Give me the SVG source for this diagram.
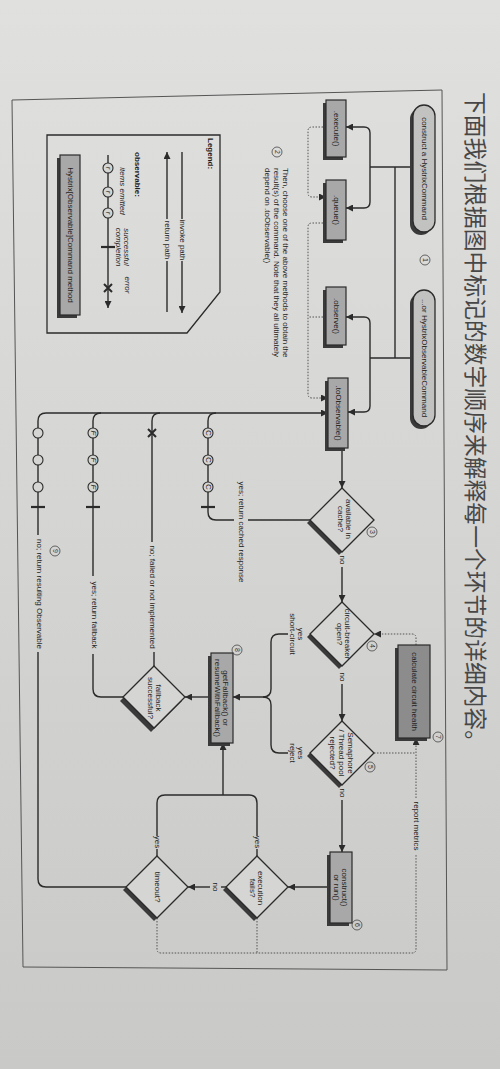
<svg xmlns="http://www.w3.org/2000/svg" width="500" height="1069" viewBox="0 0 500 1069">
<defs>
<linearGradient id="bg" x1="0" y1="0" x2="0" y2="1">
<stop offset="0" stop-color="#e0e0df"/>
<stop offset="1" stop-color="#c9c9c7"/>
</linearGradient>
<marker id="a" viewBox="0 0 10 10" refX="10" refY="5" markerWidth="7" markerHeight="7" markerUnits="userSpaceOnUse" orient="auto"><path d="M0,0 L10,5 L0,10 z" fill="#2b2b2b"/></marker>
<marker id="ad" viewBox="0 0 10 10" refX="10" refY="5" markerWidth="7" markerHeight="7" markerUnits="userSpaceOnUse" orient="auto"><path d="M0,0 L10,5 L0,10 z" fill="#2b2b2b"/></marker>
</defs>
<style>
.ln{fill:none;stroke:#2b2b2b;stroke-width:1.4}
.dt{fill:none;stroke:#555;stroke-width:1;stroke-dasharray:1.5 1.5}
.box{fill:#a8a8a8;stroke:#2b2b2b;stroke-width:1.2}
.pill{fill:#c2c2c1;stroke:#2b2b2b;stroke-width:1.3}
.dark{fill:#8c8c8c;stroke:#2b2b2b;stroke-width:1.2}
.sh{fill:#3a3a3a}
.dia{fill:#d5d5d3;stroke:#2b2b2b;stroke-width:1.3}
.t{font-family:"Liberation Sans",Arial,sans-serif;font-size:8px;fill:#1e1e1e;text-anchor:middle;dominant-baseline:central}
.s{text-anchor:start}
.i{font-style:italic}
.b{font-weight:bold}
.cir{fill:#d5d5d3;stroke:#2b2b2b;stroke-width:1.1}
.num{fill:none;stroke:#444;stroke-width:0.8}
.nt{font-family:"Liberation Sans",Arial,sans-serif;font-size:7px;fill:#333;text-anchor:middle;dominant-baseline:central}
.tick{stroke:#2b2b2b;stroke-width:2.2}
</style>
<rect x="0" y="0" width="500" height="1069" fill="url(#bg)"/>
<polygon points="12,100 442,90 447,970 23,967" fill="none" stroke="#555" stroke-width="1"/>
<text transform="translate(467,92) rotate(90)" font-family="'Noto Sans CJK SC','Noto Sans CJK JP',sans-serif" font-size="22.8" fill="#474747">下面我们根据图中标记的数字顺序来解释每一个环节的详细内容。</text>

<g id="connectors">
<path class="ln" d="M413,167 H370"/>
<path class="ln" d="M370,167 V133 Q370,127 364,127 H346" marker-end="url(#a)"/>
<path class="ln" d="M370,167 V202 Q370,208 364,208 H346" marker-end="url(#a)"/>
<path class="ln" d="M395,167 V358"/>
<path class="ln" d="M413,358 H370"/>
<path class="ln" d="M370,358 V323 Q370,317 364,317 H346" marker-end="url(#a)"/>
<path class="ln" d="M370,358 V406 Q370,412 364,412 H348" marker-end="url(#a)"/>
<path class="dt" d="M326,127 H312 Q308,127 308,131 V193 Q308,197 312,197 H326" marker-end="url(#ad)"/>
<path class="dt" d="M326,223 H312 Q308,223 308,227 V394 Q308,398 312,398 H328" marker-end="url(#ad)"/>
<path class="dt" d="M326,317 H308"/>
<path class="ln" d="M126,887 H46 Q38,887 38,879 V652"/>
<path class="ln" d="M38,535 V421 Q38,413 46,413 H328" marker-end="url(#a)"/>
<path class="ln" d="M123,697 H101 Q93,697 93,689 V654"/>
<path class="ln" d="M93,576 V421 Q93,413 101,413"/>
<path class="ln" d="M154,666 V652"/>
<path class="ln" d="M152,542 V421 Q152,413 160,413"/>
<path class="ln" d="M310,520 H248"/>
<path class="ln" d="M234,520 H216 Q208,520 208,512 V421 Q208,413 216,413"/>
<path class="ln" d="M342,448 V488" marker-end="url(#a)"/>
<path class="ln" d="M342,567 V602" marker-end="url(#a)"/>
<path class="ln" d="M342,684 V721" marker-end="url(#a)"/>
<path class="ln" d="M342,800 V852" marker-end="url(#a)"/>
<path class="ln" d="M330,887 H288" marker-end="url(#a)"/>
<path class="ln" d="M226,887 H221"/>
<path class="ln" d="M210,887 H188" marker-end="url(#a)"/>
<path class="ln" d="M257,856 V849"/>
<path class="ln" d="M257,836 V803 Q257,795 249,795 H165 Q157,795 157,803 V836"/>
<path class="ln" d="M157,849 V856"/>
<path class="ln" d="M223,795 V743" marker-end="url(#a)"/>
<path class="ln" d="M288,634 H279 Q271,634 271,642 V689 Q271,697 263,697 H233" marker-end="url(#a)"/>
<path class="ln" d="M288,753 H279 Q271,753 271,745 V705 Q271,697 263,697"/>
<path class="ln" d="M211,697 H185" marker-end="url(#a)"/>
<path class="dt" d="M416,645 V638 Q416,634 412,634 H374" marker-end="url(#ad)"/>
<path class="dt" d="M374,753 H416"/>
<path class="dt" d="M416,798 V738" marker-end="url(#ad)"/>
<path class="dt" d="M157,918 V949 Q157,953 161,953 H412 Q416,953 416,949 V854"/>
<path class="dt" d="M257,918 V953"/>
</g>

<g id="branch-markers">
<circle class="cir" cx="38" cy="433" r="5"/><circle class="cir" cx="38" cy="460" r="5"/><circle class="cir" cx="38" cy="487" r="5"/>
<line class="tick" x1="31" y1="507" x2="45" y2="507"/>
<circle class="cir" cx="93" cy="433" r="5"/><circle class="cir" cx="93" cy="460" r="5"/><circle class="cir" cx="93" cy="487" r="5"/>
<text class="t i" font-size="6" transform="translate(93,433) rotate(90)">F</text>
<text class="t i" font-size="6" transform="translate(93,460) rotate(90)">F</text>
<text class="t i" font-size="6" transform="translate(93,487) rotate(90)">F</text>
<line class="tick" x1="86" y1="507" x2="100" y2="507"/>
<path d="M148,429 L156,437 M156,429 L148,437" stroke="#2b2b2b" stroke-width="2"/>
<circle class="cir" cx="208" cy="433" r="5"/><circle class="cir" cx="208" cy="460" r="5"/><circle class="cir" cx="208" cy="487" r="5"/>
<text class="t" font-size="6" transform="translate(208,433) rotate(90)">C</text>
<text class="t" font-size="6" transform="translate(208,460) rotate(90)">C</text>
<text class="t" font-size="6" transform="translate(208,487) rotate(90)">C</text>
<line class="tick" x1="201" y1="507" x2="215" y2="507"/>
</g>

<g id="labels">
<text class="t" transform="translate(241,532) rotate(90)">yes; return cached response</text>
<text class="t" transform="translate(152,597) rotate(90)">no; failed or not implemented</text>
<text class="t" transform="translate(94,615) rotate(90)">yes; return fallback</text>
<text class="t" transform="translate(39,594) rotate(90)">no; return resulting Observable</text>
<text class="t" transform="translate(342,560) rotate(90)">no</text>
<text class="t" transform="translate(342,677) rotate(90)">no</text>
<text class="t" transform="translate(342,793) rotate(90)">no</text>
<text class="t" transform="translate(215,887) rotate(90)">no</text>
<text class="t" transform="translate(257,842) rotate(90)">yes</text>
<text class="t" transform="translate(157,842) rotate(90)">yes</text>
<text class="t" transform="translate(297,634) rotate(90)"><tspan x="0" dy="-0.55em">yes</tspan><tspan x="0" dy="1.1em">short-circuit</tspan></text>
<text class="t" transform="translate(297,753) rotate(90)"><tspan x="0" dy="-0.55em">yes</tspan><tspan x="0" dy="1.1em">reject</tspan></text>
<text class="t" transform="translate(416,826) rotate(90)">report metrics</text>
</g>

<g id="n-construct-command"><rect class="sh" x="410" y="108" width="22" height="127" rx="11"/><rect class="pill" x="413" y="105" width="22" height="127" rx="11"/><text class="t" font-size="9" transform="translate(424,168.5) rotate(90)">construct a HystrixCommand</text></g>
<g id="n-observable-command"><rect class="sh" x="410" y="293" width="22" height="136" rx="11"/><rect class="pill" x="413" y="290" width="22" height="136" rx="11"/><text class="t" font-size="9" transform="translate(424,358) rotate(90)">...or HystrixObservableCommand</text></g>
<g id="n-execute"><rect class="sh" x="323" y="103" width="20" height="57"/><rect class="box" x="326" y="100" width="20" height="57"/><text class="t" font-size="8.5" transform="translate(336,128.5) rotate(90)">.execute()</text></g>
<g id="n-queue"><rect class="sh" x="323" y="183" width="20" height="60"/><rect class="box" x="326" y="180" width="20" height="60"/><text class="t" font-size="8.5" transform="translate(336,210) rotate(90)">.queue()</text></g>
<g id="n-observe"><rect class="sh" x="323" y="290" width="20" height="58"/><rect class="box" x="326" y="287" width="20" height="58"/><text class="t" font-size="8.5" transform="translate(336,316) rotate(90)">.observe()</text></g>
<g id="n-toobservable"><rect class="sh" x="325" y="381" width="20" height="70"/><rect class="box" x="328" y="378" width="20" height="70"/><text class="t" font-size="8.5" transform="translate(338,413) rotate(90)">.toObservable()</text></g>
<g id="n-cache"><polygon class="sh" points="339,491 371,523 339,555 307,523"/><polygon class="dia" points="342,488 374,520 342,552 310,520"/><text class="t" font-size="7.5" transform="translate(345,519) rotate(90)"><tspan x="0" dy="-0.55em">available in</tspan><tspan x="0" dy="1.1em">cache?</tspan></text></g>
<g id="n-circuit"><polygon class="sh" points="339,605 371,637 339,669 307,637"/><polygon class="dia" points="342,602 374,634 342,666 310,634"/><text class="t" font-size="7" transform="translate(344,634) rotate(90)"><tspan x="0" dy="-0.55em">circuit-breaker</tspan><tspan x="0" dy="1.1em">open?</tspan></text></g>
<g id="n-semaphore"><polygon class="sh" points="339,724 371,756 339,788 307,756"/><polygon class="dia" points="342,721 374,753 342,785 310,753"/><text class="t" font-size="7" transform="translate(342,753) rotate(90)"><tspan x="0" dy="-1.1em">Semaphore</tspan><tspan x="0" dy="1.1em">/ Thread pool</tspan><tspan x="0" dy="1.1em">rejected?</tspan></text></g>
<g id="n-calc-health"><rect class="sh" x="395" y="648" width="32" height="93"/><rect class="dark" x="398" y="645" width="32" height="93"/><text class="t" transform="translate(414,691.5) rotate(90)">calculate circuit health</text></g>
<g id="n-run"><rect class="sh" x="327" y="855" width="22" height="71"/><rect class="box" x="330" y="852" width="22" height="71"/><text class="t" font-size="8.5" transform="translate(341,887.5) rotate(90)"><tspan x="0" dy="-0.55em">construct()</tspan><tspan x="0" dy="1.1em">or run()</tspan></text></g>
<g id="n-exec-fails"><polygon class="sh" points="254,859 285,890 254,921 223,890"/><polygon class="dia" points="257,856 288,887 257,918 226,887"/><text class="t" transform="translate(257,888) rotate(90)"><tspan x="0" dy="-0.55em">execution</tspan><tspan x="0" dy="1.1em">fails?</tspan></text></g>
<g id="n-timeout"><polygon class="sh" points="154,859 185,890 154,921 123,890"/><polygon class="dia" points="157,856 188,887 157,918 126,887"/><text class="t" transform="translate(157,887) rotate(90)">timeout?</text></g>
<g id="n-getfallback"><rect class="sh" x="208" y="656" width="22" height="90"/><rect class="box" x="211" y="653" width="22" height="90"/><text class="t" font-size="8.5" transform="translate(222,698) rotate(90)"><tspan x="0" dy="-0.55em">getFallback() or</tspan><tspan x="0" dy="1.1em">resumeWithFallback()</tspan></text></g>
<g id="n-fallback-ok"><polygon class="sh" points="151,670 182,701 151,732 120,701"/><polygon class="dia" points="154,666 185,697 154,728 123,697"/><text class="t" font-size="7.5" transform="translate(155,698) rotate(90)"><tspan x="0" dy="-0.55em">fallback</tspan><tspan x="0" dy="1.1em">successful?</tspan></text></g>

<g id="step-numbers">
<circle class="num" cx="425" cy="260" r="5"/><text class="nt" transform="translate(425,260) rotate(90)">1</text>
<circle class="num" cx="277" cy="152" r="5"/><text class="nt" transform="translate(277,152) rotate(90)">2</text>
<circle class="num" cx="372" cy="532" r="5"/><text class="nt" transform="translate(372,532) rotate(90)">3</text>
<circle class="num" cx="372" cy="646" r="5"/><text class="nt" transform="translate(372,646) rotate(90)">4</text>
<circle class="num" cx="370" cy="767" r="5"/><text class="nt" transform="translate(370,767) rotate(90)">5</text>
<circle class="num" cx="357" cy="925" r="5"/><text class="nt" transform="translate(357,925) rotate(90)">6</text>
<circle class="num" cx="438" cy="737" r="5"/><text class="nt" transform="translate(438,737) rotate(90)">7</text>
<circle class="num" cx="237" cy="650" r="5"/><text class="nt" transform="translate(237,650) rotate(90)">8</text>
<circle class="num" cx="55" cy="551" r="5"/><text class="nt" transform="translate(55,551) rotate(90)">9</text>
</g>

<g id="note-2">
<text class="t s" transform="translate(285,168) rotate(90)">Then, choose one of the above methods to obtain the</text>
<text class="t s" transform="translate(276,168) rotate(90)">result(s) of the command. Note that they all ultimately</text>
<text class="t s" transform="translate(267,168) rotate(90)">depend on .toObservable()</text>
</g>

<g id="legend">
<polygon points="47,135 220,135 220,292 187,333 47,333" fill="none" stroke="#2b2b2b" stroke-width="1.3"/>
<text class="t s b" font-size="13" transform="translate(210,138) rotate(90)">Legend:</text>
<path class="ln" d="M182,152 V219"/><text class="t" transform="translate(182,240) rotate(90)">invoke path</text><path class="ln" d="M182,261 V313" marker-end="url(#a)"/>
<path class="ln" d="M167,312 V261"/><text class="t" transform="translate(167,240) rotate(90)">return path</text><path class="ln" d="M167,219 V152" marker-end="url(#a)"/>
<text class="t s b" font-size="10" transform="translate(137,152) rotate(90)">observable:</text>
<text class="t i" font-size="8.5" transform="translate(122,191) rotate(90)">items emitted</text>
<text class="t i" font-size="8.5" transform="translate(123,247) rotate(90)"><tspan x="0" dy="-0.55em">successful</tspan><tspan x="0" dy="1.1em">completion</tspan></text>
<text class="t i" font-size="8.5" transform="translate(127,285) rotate(90)">error</text>
<path class="ln" d="M108,155 V308" marker-end="url(#a)"/>
<circle class="cir" cx="108" cy="168" r="5"/><circle class="cir" cx="108" cy="192" r="5"/><circle class="cir" cx="108" cy="213" r="5"/>
<text class="t i" font-size="6" transform="translate(108,168) rotate(90)">r</text>
<text class="t i" font-size="6" transform="translate(108,192) rotate(90)">r</text>
<text class="t i" font-size="6" transform="translate(108,213) rotate(90)">r</text>
<line class="tick" x1="101" y1="247" x2="115" y2="247"/>
<path d="M104,284 L112,292 M112,284 L104,292" stroke="#2b2b2b" stroke-width="2"/>
<rect class="sh" x="57" y="158" width="20" height="160"/><rect class="box" x="60" y="155" width="20" height="160"/>
<text class="t" font-size="8.8" transform="translate(70,235) rotate(90)">Hystrix[Observable]Command method</text>
</g>
</svg>
